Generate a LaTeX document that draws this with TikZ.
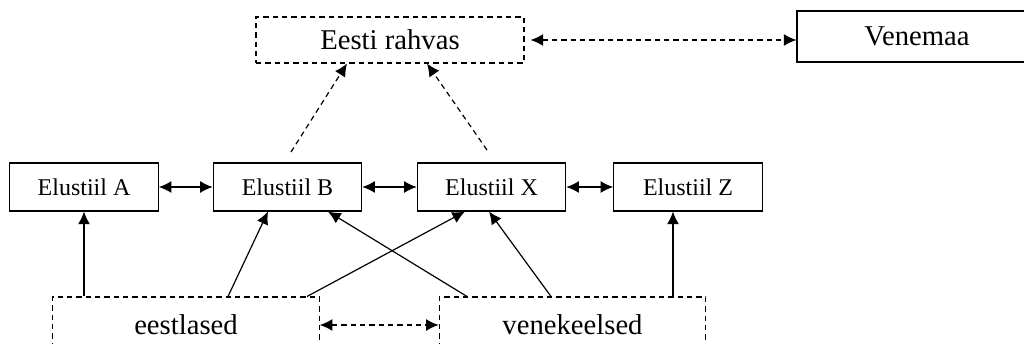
\documentclass[tikz,border=0pt]{standalone}
\usepackage{fontspec}
\setmainfont{Liberation Serif}
\usetikzlibrary{math, arrows.meta, calc}

\begin{document}
\begin{tikzpicture}[x=0.75pt, y=-0.75pt,
  box/.style={draw, line width=0.8pt, inner sep=0pt},
  dbox/.style={box, dash pattern=on 4pt off 3pt},
  big/.style={font=\fontsize{21.5}{24}\selectfont},
  small/.style={font=\fontsize{18}{21}\selectfont},
  link/.style={line width=0.9pt, -{Latex[length=9.5pt,width=9pt]}},
  both/.style={line width=0.9pt, {Latex[length=9.5pt,width=9pt]}-{Latex[length=9.5pt,width=9pt]}},
  dlink/.style={link, dash pattern=on 4pt off 3pt},
  dboth/.style={both, dash pattern=on 4pt off 3pt}]

\tikzmath{
\px = 0.75;
\styleW = 148.5;
\styleH = 48;
\groupW = 266.5;
\groupH = 56;
}

\useasboundingbox (0,0) rectangle (1024,343);

\node[dbox, big, minimum width=268*\px pt, minimum height=46*\px pt] (rahvas) at (390,40) {Eesti rahvas};
\node[box, big, minimum width=240*\px pt, minimum height=51*\px pt] (venemaa) at (917,36.5) {Venemaa};
\draw[dboth, shorten <=4.5pt] (rahvas.east) -- (rahvas.east -| venemaa.west);

\foreach \n/\x in {A/84, B/287.5, X/491.5, Z/688}
    \node[box, small, minimum width=\styleW*\px pt, minimum height=\styleH*\px pt] (st\n) at (\x,187) {Elustiil \n};

\foreach \a/\b in {A/B, B/X, X/Z}
    \draw[both] (st\a) -- (st\b);

%\draw[dlink] (stB.north) -- (rahvas.south);
\coordinate (fromB) at (291,152);
\coordinate (fromX) at (487,150);
\draw[dlink] (fromB) -- ($(rahvas.south)+(-43,0)$);
\draw[dlink] (fromX) -- ($(rahvas.south)+(37,0)$);

\node[dbox, big, minimum width=\groupW*\px pt, minimum height=\groupH*\px pt] (eest) at (186,325) {eestlased};
\node[dbox, big, minimum width=\groupW*\px pt, minimum height=\groupH*\px pt] (vene) at (572.5,325) {venekeelsed};
\draw[dboth] (eest) -- (vene);

\draw[link] (stA.south |- eest.north) -- (stA.south);
\draw[link] ($(eest.north)+(42,0)$) -- ($(stB.south)+(-19.5,0)$);
\draw[link] ($(eest.north)+(121,0)$) -- ($(stX.south)+(-26.5,0)$);
\draw[link] ($(vene.north)+(-105.5,0)$) -- ($(stB.south)+(40.5,0)$);
\draw[link] ($(vene.north)+(-21.5,0)$) -- ($(stX.south)+(-2.5,0)$);
\draw[link] ($(stZ.south |- vene.north)+(-15,0)$) -- ($(stZ.south)+(-15,0)$);

\end{tikzpicture}
\end{document}
